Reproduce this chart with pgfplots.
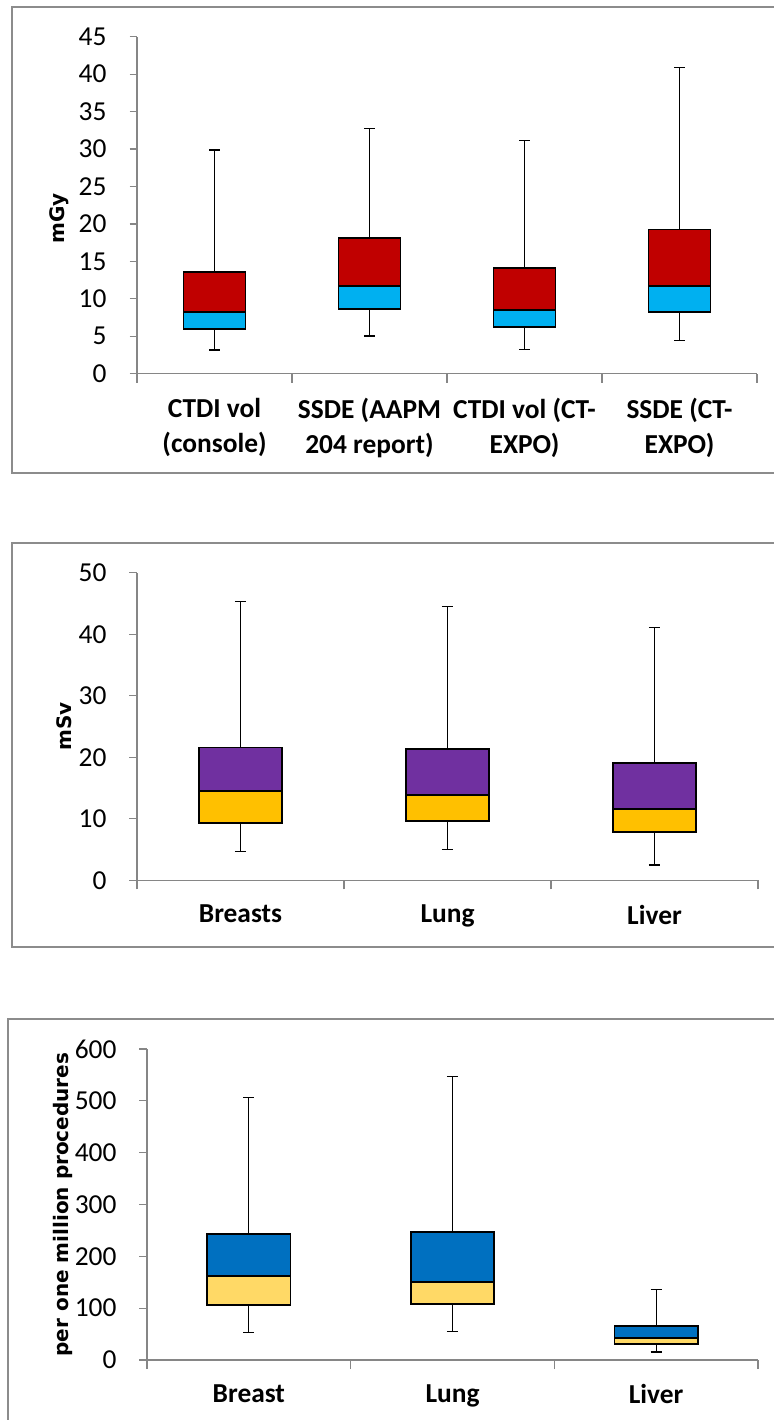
\documentclass[border=0pt]{standalone}
\usepackage{fontspec}
\setmainfont{Carlito}
\newfontfamily\ylabfont{DejaVu Sans}
\usepackage{pgfplots}
\pgfplotsset{compat=1.18}
\usepgfplotslibrary{statistics}
\definecolor{axgray}{HTML}{868686}
\definecolor{framegray}{HTML}{8C8C8C}
\definecolor{cyanA}{HTML}{00B0F0}
\definecolor{redB}{HTML}{C00000}
\definecolor{orangeA}{HTML}{FFC000}
\definecolor{purpleB}{HTML}{7030A0}
\definecolor{yellowA}{HTML}{FFD966}
\definecolor{blueB}{HTML}{0070C0}
\pgfplotsset{
  twobox/.style 2 args={
    boxplot/draw/box/.code={
      \draw[fill=#1, line width=0.9pt] (boxplot box cs:\pgfplotsboxplotvalue{lower quartile},0) rectangle (boxplot box cs:\pgfplotsboxplotvalue{median},1);
      \draw[fill=#2, line width=0.9pt] (boxplot box cs:\pgfplotsboxplotvalue{median},0) rectangle (boxplot box cs:\pgfplotsboxplotvalue{upper quartile},1);
    },
  },
  panel/.style={
    scale only axis,
    axis x line*=bottom, axis y line*=left,
    axis line style={axgray, line width=0.6pt},
    tick align=outside,
    major tick length=3.75pt, minor tick length=4.5pt,
    every tick/.style={axgray, line width=0.6pt},
    major x tick style={draw=none},
    ymin=0,
    /pgf/number format/assume math mode=true,
    yticklabel style={font=\fontsize{13.7}{15}\selectfont},
    yticklabel={\pgfmathprintnumber{\tick}\kern8pt},
    xticklabel style={font=\bfseries\fontsize{13.7}{17.5}\selectfont, align=center, yshift=-5pt},
    ylabel style={font=\ylabfont\bfseries\fontsize{10}{11}\selectfont, anchor=center},
    boxplot/draw direction=y,
    boxplot/box extend=0.4,
    boxplot/every whisker/.style={black, line width=0.65pt},
    boxplot/every median/.style={black, line width=0.9pt},
  },
}
\begin{document}
\begin{tikzpicture}
\useasboundingbox (0,0) rectangle (386.5pt,-710pt);
\draw[framegray, line width=0.75pt] (6pt,-3.5pt) rectangle (400pt,-236.5pt);
\draw[framegray, line width=0.75pt] (6pt,-271.5pt) rectangle (400pt,-473.5pt);
\draw[framegray, line width=0.75pt] (4pt,-509.5pt) rectangle (400pt,-730pt);

% Panel 1
\begin{axis}[panel, twobox={cyanA}{redB},
  at={(68.5pt,-186.85pt)}, anchor=south west,
  width=310pt, height=168.5pt,
  xmin=0.5, xmax=4.5, ymax=45,
  ytick={0,5,...,45},
  xtick={1,2,3,4},
  minor xtick={0.5,1.5,2.5,3.5,4.5},
  xticklabels={{CTDI vol\\(console)},{SSDE (AAPM\\204 report)},{CTDI vol (CT-\\EXPO)},{SSDE (CT-\\EXPO)}},
  ylabel={mGy},
  ylabel style={at={(axis description cs:-0.126,0.46)}},
  boxplot/whisker extend=0.07,
]
\addplot[black, boxplot prepared={lower whisker=3.16, lower quartile=5.96, median=8.19, upper quartile=13.53, upper whisker=29.86, draw position=1}] coordinates {};
\addplot[black, boxplot prepared={lower whisker=5.03, lower quartile=8.59, median=11.66, upper quartile=18.07, upper whisker=32.75, draw position=2}] coordinates {};
\addplot[black, boxplot prepared={lower whisker=3.25, lower quartile=6.23, median=8.5, upper quartile=14.15, upper whisker=31.15, draw position=3}] coordinates {};
\addplot[black, boxplot prepared={lower whisker=4.45, lower quartile=8.23, median=11.66, upper quartile=19.27, upper whisker=40.85, draw position=4}] coordinates {};
\end{axis}

% Panel 2
\begin{axis}[panel, twobox={orangeA}{purpleB},
  at={(68.5pt,-440.15pt)}, anchor=south west,
  width=310.5pt, height=153.8pt,
  xmin=0.5, xmax=3.5, ymax=50,
  ytick={0,10,...,50},
  xtick={1,2,3},
  minor xtick={0.5,1.5,2.5,3.5},
  xticklabels={Breasts,Lung,Liver},
  ylabel={mSv},
  ylabel style={at={(axis description cs:-0.1176,0.5)}},
  boxplot/whisker extend=0.055,
]
\addplot[black, boxplot prepared={lower whisker=4.66, lower quartile=9.37, median=14.52, upper quartile=21.6, upper whisker=45.29, draw position=1}] coordinates {};
\addplot[black, boxplot prepared={lower whisker=4.98, lower quartile=9.7, median=13.87, upper quartile=21.3, upper whisker=44.5, draw position=2}] coordinates {};
\addplot[black, boxplot prepared={lower whisker=2.49, lower quartile=7.9, median=11.6, upper quartile=19.07, upper whisker=41.06, draw position=3}] coordinates {};
\end{axis}

% Panel 3
\begin{axis}[panel, twobox={yellowA}{blueB},
  at={(73.5pt,-680pt)}, anchor=south west,
  width=305.5pt, height=155.5pt,
  xmin=0.5, xmax=3.5, ymax=600,
  ytick={0,100,...,600},
  xtick={1,2,3},
  minor xtick={0.5,1.5,2.5,3.5},
  xticklabels={Breast,Lung,Liver},
  ylabel={per one million procedures},
  ylabel style={at={(axis description cs:-0.1375,0.5)}},
  boxplot/box extend=0.41,
  boxplot/whisker extend=0.055,
]
\addplot[black, boxplot prepared={lower whisker=52.7, lower quartile=106, median=162, upper quartile=243, upper whisker=507, draw position=1}] coordinates {};
\addplot[black, boxplot prepared={lower whisker=54.7, lower quartile=107.4, median=150, upper quartile=247, upper whisker=547, draw position=2}] coordinates {};
\addplot[black, boxplot prepared={lower whisker=15.4, lower quartile=30.9, median=41.8, upper quartile=65.6, upper whisker=136, draw position=3}] coordinates {};
\end{axis}
\end{tikzpicture}
\end{document}
